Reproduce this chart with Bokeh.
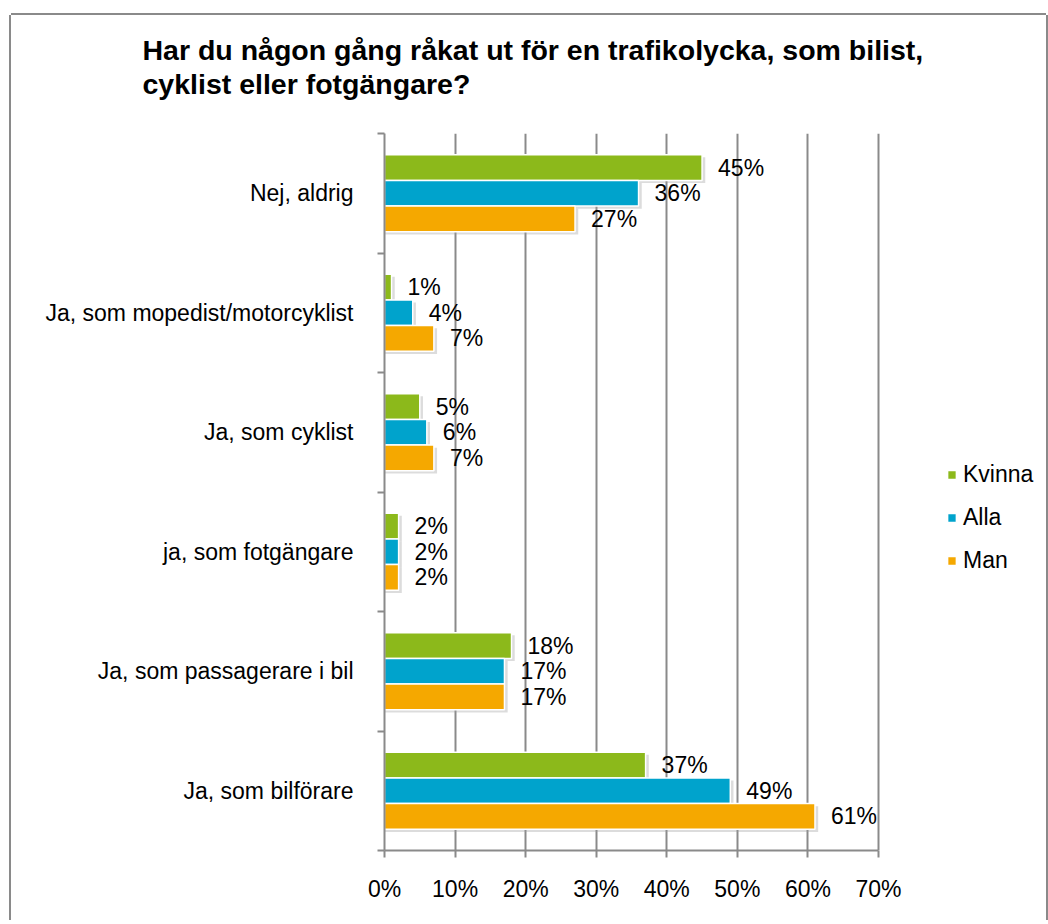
from bokeh.plotting import figure
from bokeh.models import (ColumnDataSource, FixedTicker, PrintfTickFormatter,
                          Legend, LegendItem, Range1d, Title)
from bokeh.transform import dodge
from bokeh.core.properties import value
from bokeh.embed import file_html
from bokeh.resources import INLINE

# ---- data ----
categories = ["Nej, aldrig", "Ja, som mopedist/motorcyklist", "Ja, som cyklist",
              "ja, som fotgängare", "Ja, som passagerare i bil", "Ja, som bilförare"]
kvinna = [45, 1, 5, 2, 18, 37]
alla = [36, 4, 6, 2, 17, 49]
man = [27, 7, 7, 2, 17, 61]
series_names = ["Kvinna", "Alla", "Man"]
series_colors = ["#8CB91B", "#00A3CC", "#F5A800"]
x_ticks = [0, 10, 20, 30, 40, 50, 60, 70]
title_lines = ["Har du någon gång råkat ut för en trafikolycka, som bilist,",
               "cyklist eller fotgängare?"]

FONT = "Liberation Sans"
GRAY = "#8a8a8a"
W = 1035
H = 905
PX_PER_UNIT = 494 / 70.0
FRAME_LEFT = 373

n = len(categories)
ypos = [n - 0.5 - i for i in range(n)]
series_vals = [kvinna, alla, man]

data = dict(y=ypos, cat=categories)
for name, vals in zip(series_names, series_vals):
    data[name] = vals
    data[name + "_lbl"] = [f"{v}%" for v in vals]
    data[name + "_sh"] = [v + 0.45 for v in vals]
src = ColumnDataSource(data)

x_end = (W - FRAME_LEFT) / PX_PER_UNIT
p = figure(width=W, height=H, x_range=Range1d(0, x_end), y_range=Range1d(0, n),
           output_backend="svg", toolbar_location=None, title_location=None,
           min_border_left=FRAME_LEFT, min_border_right=0, min_border_top=118, min_border_bottom=70,
           styles={"margin-left": "11px", "margin-top": "15px",
                   "box-shadow": f"-2px 0 0 0 {GRAY}, 2px 0 0 0 {GRAY}, 0 -2px 0 0 {GRAY}"})
p.outline_line_color = None
p.background_fill_color = "white"
p.border_fill_color = "white"

# spacer between title and plot area, then the two title lines (nearest first)
p.add_layout(Title(text=" ", text_font_size="1px", standoff=29, align="left"), "above")
for line in reversed(title_lines):
    p.add_layout(Title(text=line, align="left", offset=-242, standoff=0,
                       text_font=FONT, text_font_size="28.5px", text_font_style="bold",
                       text_color="black", vertical_align="top"), "above")

p.ygrid.visible = False
p.xgrid.ticker = FixedTicker(ticks=x_ticks)
p.xgrid.grid_line_color = GRAY
p.xgrid.grid_line_width = 2

xa = p.xaxis[0]
xa.ticker = FixedTicker(ticks=x_ticks)
xa.bounds = (0, 70)
xa.formatter = PrintfTickFormatter(format="%d%%")
xa.axis_line_color = GRAY
xa.axis_line_width = 2
xa.major_tick_line_color = GRAY
xa.major_tick_line_width = 2
xa.major_tick_out = 7
xa.major_tick_in = 0
xa.minor_tick_line_color = None
xa.major_label_standoff = 18
xa.major_label_text_font = FONT
xa.major_label_text_font_size = "23px"
xa.major_label_text_color = "black"

ya = p.yaxis[0]
ya.ticker = FixedTicker(ticks=ypos, minor_ticks=list(range(n + 1)))
ya.major_label_overrides = {y: c for y, c in zip(ypos, categories)}
ya.axis_line_color = GRAY
ya.axis_line_width = 2
ya.major_tick_line_color = None
ya.major_tick_out = 0
ya.major_tick_in = 0
ya.minor_tick_line_color = GRAY
ya.minor_tick_line_width = 2
ya.minor_tick_out = 7
ya.minor_tick_in = 0
ya.major_label_standoff = 24
ya.major_label_text_font = FONT
ya.major_label_text_font_size = "23px"
ya.major_label_text_color = "black"

BAR_H = 0.215
offsets = [BAR_H, 0.0, -BAR_H]

renderers = []
for name, off in zip(series_names, offsets):
    p.hbar(y=dodge("y", off - 0.022, range=p.y_range), left=0, right=name + "_sh",
           height=BAR_H, source=src, fill_color="#9a9a9a", fill_alpha=0.35, line_color=None)
for name, color, off in zip(series_names, series_colors, offsets):
    r = p.hbar(y=dodge("y", off, range=p.y_range), left=0, right=name, height=BAR_H,
               source=src, fill_color=color, line_color="white", line_width=1.5)
    renderers.append(r)
    p.text(x=name, y=dodge("y", off, range=p.y_range), text=name + "_lbl", source=src,
           x_offset=16, text_align="left", text_baseline="middle",
           text_font=value(FONT), text_font_size="23px", text_color="black")

legend = Legend(items=[LegendItem(label=nm, renderers=[r]) for nm, r in zip(series_names, renderers)],
                location=(562, 276), orientation="vertical",
                glyph_width=11, glyph_height=11, label_height=26, spacing=16,
                padding=0, margin=0, border_line_color=None, background_fill_alpha=0,
                label_standoff=6, label_text_font=FONT, label_text_font_size="23px",
                label_text_color="black")
p.add_layout(legend)

open("out.html", "w").write(file_html(p, INLINE))
